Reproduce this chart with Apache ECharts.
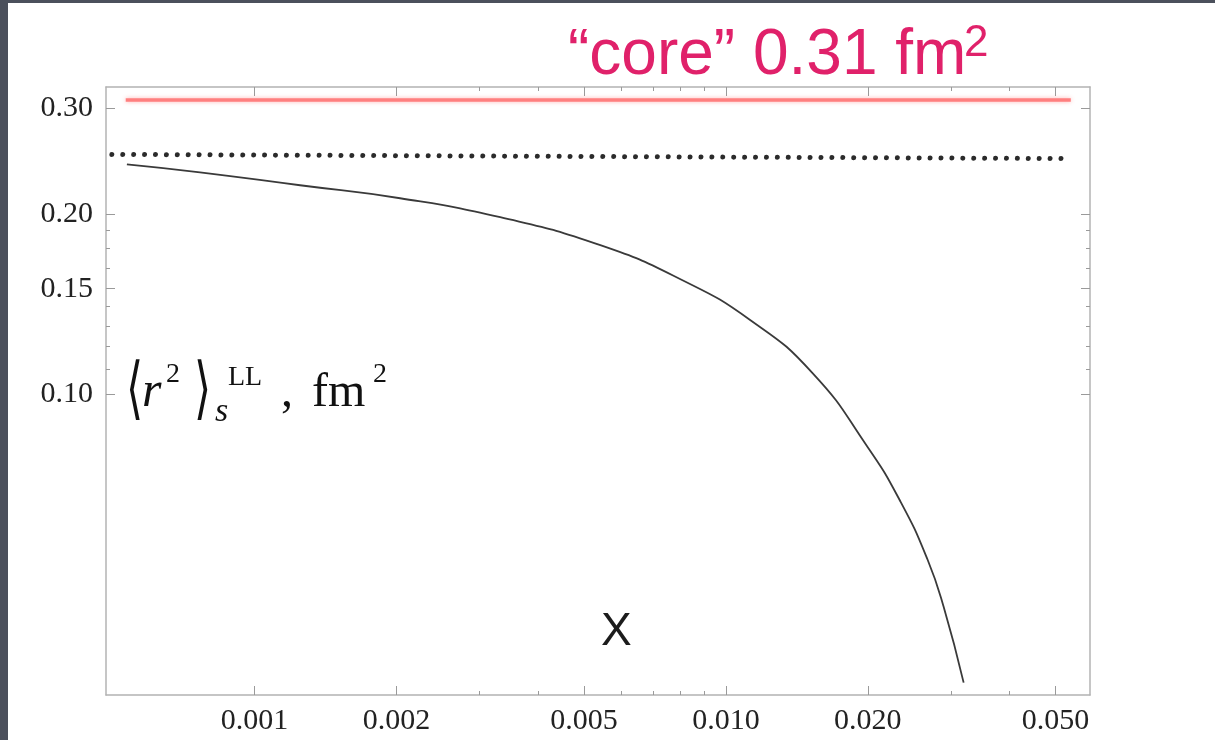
<!DOCTYPE html>
<html>
<head>
<meta charset="utf-8">
<script src="https://cdn.jsdelivr.net/npm/echarts@6/dist/echarts.min.js"></script>
<style>
  html, body { margin: 0; padding: 0; background: #4b505c; }
  #chart { width: 1215px; height: 740px; }
</style>
</head>
<body>
<div id="chart"></div>
<script>
// Momentum fraction x (log axis)
const curveX = [0.000536, 0.000766, 0.001249, 0.002036, 0.00332, 0.005414, 0.008009, 0.011273, 0.015266, 0.019974, 0.023475, 0.026783, 0.028962, 0.031934];
// <r^2>_s^LL in fm^2
const curveY = [0.2421, 0.23478, 0.22336, 0.21245, 0.19749, 0.17738, 0.15556, 0.13287, 0.10841, 0.08156, 0.06603, 0.05284, 0.04409, 0.03293];

// "core" reference level, 0.31 fm^2
const coreX = [0.000533, 0.0539];
const coreY = [0.31, 0.31];

// dotted asymptote
const asymX = [0.000498, 0.0523];
const asymY = [0.2515, 0.2475];

// ticks
const xMajorTicks = [0.001, 0.002, 0.005, 0.010, 0.020, 0.050];
const xMinorTicks = [0.003, 0.004, 0.006, 0.007, 0.008, 0.009, 0.03, 0.04];
const yMajorTicks = [0.10, 0.15, 0.20, 0.30];
const yMinorTicks = [0.11, 0.12, 0.13, 0.14, 0.1625, 0.175, 0.1875];

const X_RANGE = [0.000484, 0.0592];
const Y_RANGE = [0.0314, 0.326];

const pairs = (xs, ys) => xs.map((x, i) => [x, ys[i]]);

const FRAME = '#b3b3b3';
const TICK = '#9a9a9a';
const LABEL_FONT = '"Liberation Serif", "DejaVu Serif", serif';

function xAxisDef(pos, ticks, len, withLabels, withLine) {
  return {
    type: 'log', position: pos, min: X_RANGE[0], max: X_RANGE[1],
    axisLine: { show: withLine, onZero: false, lineStyle: { color: FRAME, width: 1.5 } },
    axisTick: { show: true, inside: true, length: len, customValues: ticks, lineStyle: { color: TICK, width: 1 } },
    axisLabel: withLabels ? {
      show: true, customValues: ticks, margin: 11,
      fontFamily: LABEL_FONT, fontSize: 30, color: '#222',
      formatter: v => Number(v).toFixed(3)
    } : { show: false },
    splitLine: { show: false }, minorTick: { show: false }
  };
}
function yAxisDef(pos, ticks, len, withLabels, withLine) {
  return {
    type: 'log', position: pos, min: Y_RANGE[0], max: Y_RANGE[1],
    axisLine: { show: withLine, onZero: false, lineStyle: { color: FRAME, width: 1.5 } },
    axisTick: { show: true, inside: true, length: len, customValues: ticks, lineStyle: { color: TICK, width: 1 } },
    axisLabel: withLabels ? {
      show: true, customValues: ticks, margin: 13,
      fontFamily: LABEL_FONT, fontSize: 30, color: '#222',
      formatter: v => Number(v).toFixed(2)
    } : { show: false },
    splitLine: { show: false }, minorTick: { show: false }
  };
}

const chart = echarts.init(document.getElementById('chart'), null, { renderer: 'canvas' });

const pink = '#e0216a';
const serif = '"Liberation Serif", "DejaVu Serif", serif';
const sans = '"Liberation Sans", Arial, sans-serif';

// text placed by its top edge
function txt(x, y, text, font, fill, extra) {
  return Object.assign({ type: 'text', x: x, y: y, style: { text: text, font: font, fill: fill || '#111', verticalAlign: 'top', align: 'left' } }, extra || {});
}

chart.setOption({
  backgroundColor: '#4b505c',
  animation: false,
  grid: { left: 106, right: 125, top: 87, bottom: 45, containLabel: false },
  xAxis: [
    xAxisDef('bottom', xMajorTicks, 9, true, true),
    xAxisDef('bottom', xMinorTicks, 4, false, false),
    xAxisDef('top', xMajorTicks, 9, false, true),
    xAxisDef('top', xMinorTicks, 4, false, false)
  ],
  yAxis: [
    yAxisDef('left', yMajorTicks, 9, true, true),
    yAxisDef('left', yMinorTicks, 4, false, false),
    yAxisDef('right', yMajorTicks, 9, false, true),
    yAxisDef('right', yMinorTicks, 4, false, false)
  ],
  graphic: [
    { type: 'rect', z: -100, silent: true, shape: { x: 8, y: 3, width: 1215, height: 740 }, style: { fill: '#ffffff' } },
    // annotation above the frame
    txt(568, 24, '\u201Ccore\u201D 0.31 fm', '64px ' + sans, pink),
    txt(964, 22, '2', '44px ' + sans, pink),
    // x axis name
    txt(601, 609, 'X', '46px ' + sans, '#1c1c1c'),
    // y quantity label: <r^2>_s^LL , fm^2
    txt(126, 359, '\u27E8', '44px "DejaVu Serif", serif', '#111', { scaleY: 1.55 }),
    txt(142, 368, 'r', 'italic 50px ' + serif),
    txt(166, 361, '2', '28px ' + serif),
    txt(194, 359, '\u27E9', '44px "DejaVu Serif", serif', '#111', { scaleY: 1.55 }),
    txt(215, 395, 's', 'italic 34px ' + serif),
    txt(228, 364, 'LL', '28px ' + serif),
    txt(281, 369, ',', '48px ' + serif),
    txt(312, 369, 'fm', '48px ' + serif),
    txt(373, 361, '2', '28px ' + serif)
  ],
  series: [
    {
      type: 'line', name: 'core', data: pairs(coreX, coreY), showSymbol: false, z: 3,
      lineStyle: { color: '#ff7f7f', width: 3.5, shadowColor: 'rgba(255,90,90,0.45)', shadowBlur: 4 }
    },
    {
      type: 'line', name: 'asymptote', data: pairs(asymX, asymY), showSymbol: false, z: 3,
      lineStyle: { color: '#2b2b2b', width: 5, type: [0.01, 10.9], cap: 'round' }
    },
    {
      type: 'line', name: 'LL', data: pairs(curveX, curveY), showSymbol: false, smooth: true, z: 4,
      lineStyle: { color: '#3a3a3a', width: 1.8 }
    }
  ]
});
</script>
</body>
</html>
